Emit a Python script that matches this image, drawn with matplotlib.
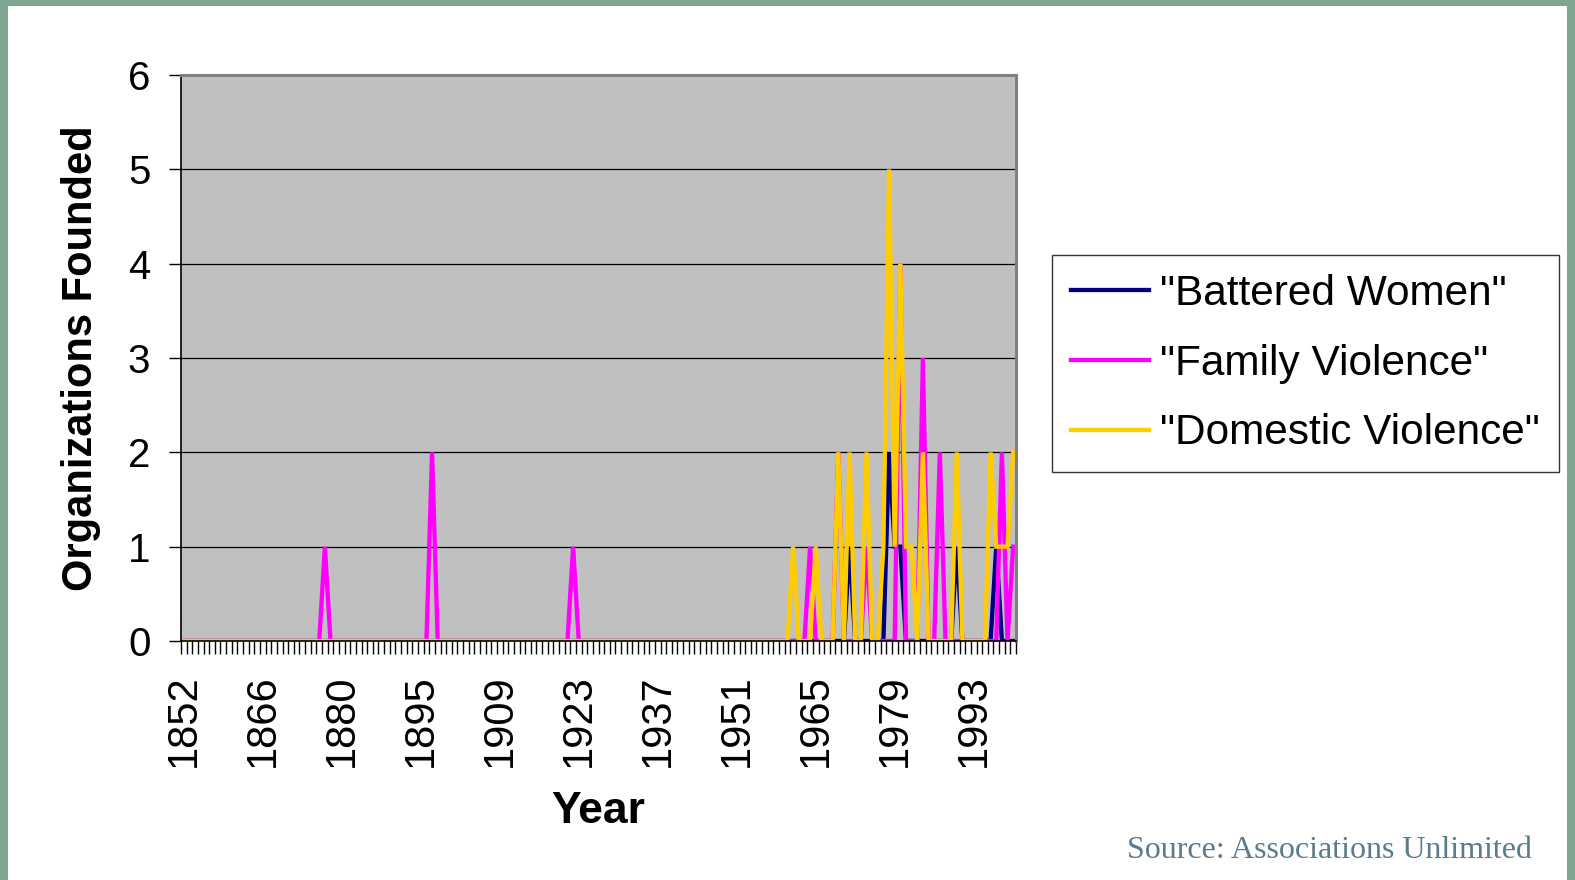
"""
Organizations founded per year, by keyword (Associations Unlimited)
Excel-style line chart: category axis with one label every 14 years.
"""
import matplotlib
matplotlib.use('Agg')
import matplotlib.pyplot as plt
from matplotlib.patches import Rectangle
from matplotlib.ticker import FixedLocator, NullFormatter

plt.rcParams['font.family'] = ['Liberation Sans', 'DejaVu Sans']

# ============================================================
# data
# ============================================================
# category years (one year between 1880 and 1895 is absent in the source)
years = list(range(1852, 1888)) + list(range(1889, 2001))

# nonzero counts only, everything else is 0
battered_women = {1971: 1, 1978: 2, 1979: 1, 1980: 1, 1990: 1, 1997: 1}
family_violence = {1877: 1, 1897: 2, 1922: 1, 1964: 1, 1969: 2, 1974: 1,
                   1980: 4, 1984: 3, 1987: 2, 1998: 2, 2000: 1}
domestic_violence = {1961: 1, 1965: 1, 1969: 2, 1971: 2, 1974: 2, 1977: 1,
                     1978: 5, 1979: 1, 1980: 4, 1981: 1, 1982: 1, 1984: 2,
                     1990: 2, 1996: 2, 1997: 1, 1998: 1, 1999: 1, 2000: 2}

series_names = ['"Battered Women"', '"Family Violence"', '"Domestic Violence"']
series_data = [battered_women, family_violence, domestic_violence]
series_colors = ['#000080', '#FF00FF', '#FFCC00']

label_step = 14

# ============================================================
# figure
# ============================================================
W, H = 1575, 880
fig = plt.figure(figsize=(W / 100, H / 100), dpi=100)
fig.patch.set_facecolor('#7FA690')
fig.add_artist(Rectangle((8 / W, 0), (W - 16) / W, (H - 6) / H,
                         transform=fig.transFigure, facecolor='white',
                         edgecolor='none', zorder=0))

ax = fig.add_axes([181 / W, 1 - 641 / H, (1016 - 181) / W, (641 - 75) / H])
ax.set_facecolor('#C0C0C0')

x = list(range(len(years)))
for name, d, c in zip(series_names, series_data, series_colors):
    vals = [d.get(y, 0) for y in years]
    ax.plot(x, vals, color=c, lw=3.1, label=name, solid_joinstyle='miter')

ax.set_xlim(-0.5, len(years) - 0.5)
ax.set_ylim(0, 6)
ax.set_yticks(range(0, 7))
ax.yaxis.grid(True, color='black', lw=0.9)
ax.set_axisbelow(True)

# category ticks between categories, labels every 14th category
ax.xaxis.set_minor_locator(FixedLocator([i - 0.5 for i in range(len(years) + 1)]))
ax.xaxis.set_minor_formatter(NullFormatter())
major = list(range(0, len(years), label_step))
ax.set_xticks(major)
ax.set_xticklabels([str(years[i]) for i in major], rotation=90, fontsize=30)
ax.tick_params(axis='x', which='major', length=0, pad=24)
ax.tick_params(axis='x', which='minor', length=9, width=1, color='black')
ax.tick_params(axis='y', length=9, width=1, pad=13, labelsize=29)

for side in ['left', 'bottom']:
    ax.spines[side].set_color('black')
    ax.spines[side].set_linewidth(1.2)
for side in ['top', 'right']:
    ax.spines[side].set_color('#808080')
    ax.spines[side].set_linewidth(2.2)

ax.set_ylabel('Organizations Founded', fontsize=30, fontweight='bold')
ax.yaxis.set_label_coords(-0.096, 0.5)
ax.set_xlabel('Year', fontsize=32, fontweight='bold')
ax.xaxis.set_label_coords(0.5, -0.265)

leg = fig.legend(loc='upper left', bbox_to_anchor=(1052 / W, 1 - 255 / H),
                 fontsize=30.5, frameon=True, fancybox=False, shadow=False,
                 handlelength=1.85, handletextpad=0.25, labelspacing=0.7,
                 borderpad=0.45, borderaxespad=0)
leg.get_frame().set_edgecolor('black')
leg.get_frame().set_linewidth(1.0)

fig.text(1532 / W, 1 - 850 / H, 'Source: Associations Unlimited',
         ha='right', va='center', fontsize=23, color='#5C7A8C',
         family=['Liberation Serif', 'DejaVu Serif'])

plt.savefig('out.png', dpi=100, facecolor=fig.get_facecolor())
plt.close()
